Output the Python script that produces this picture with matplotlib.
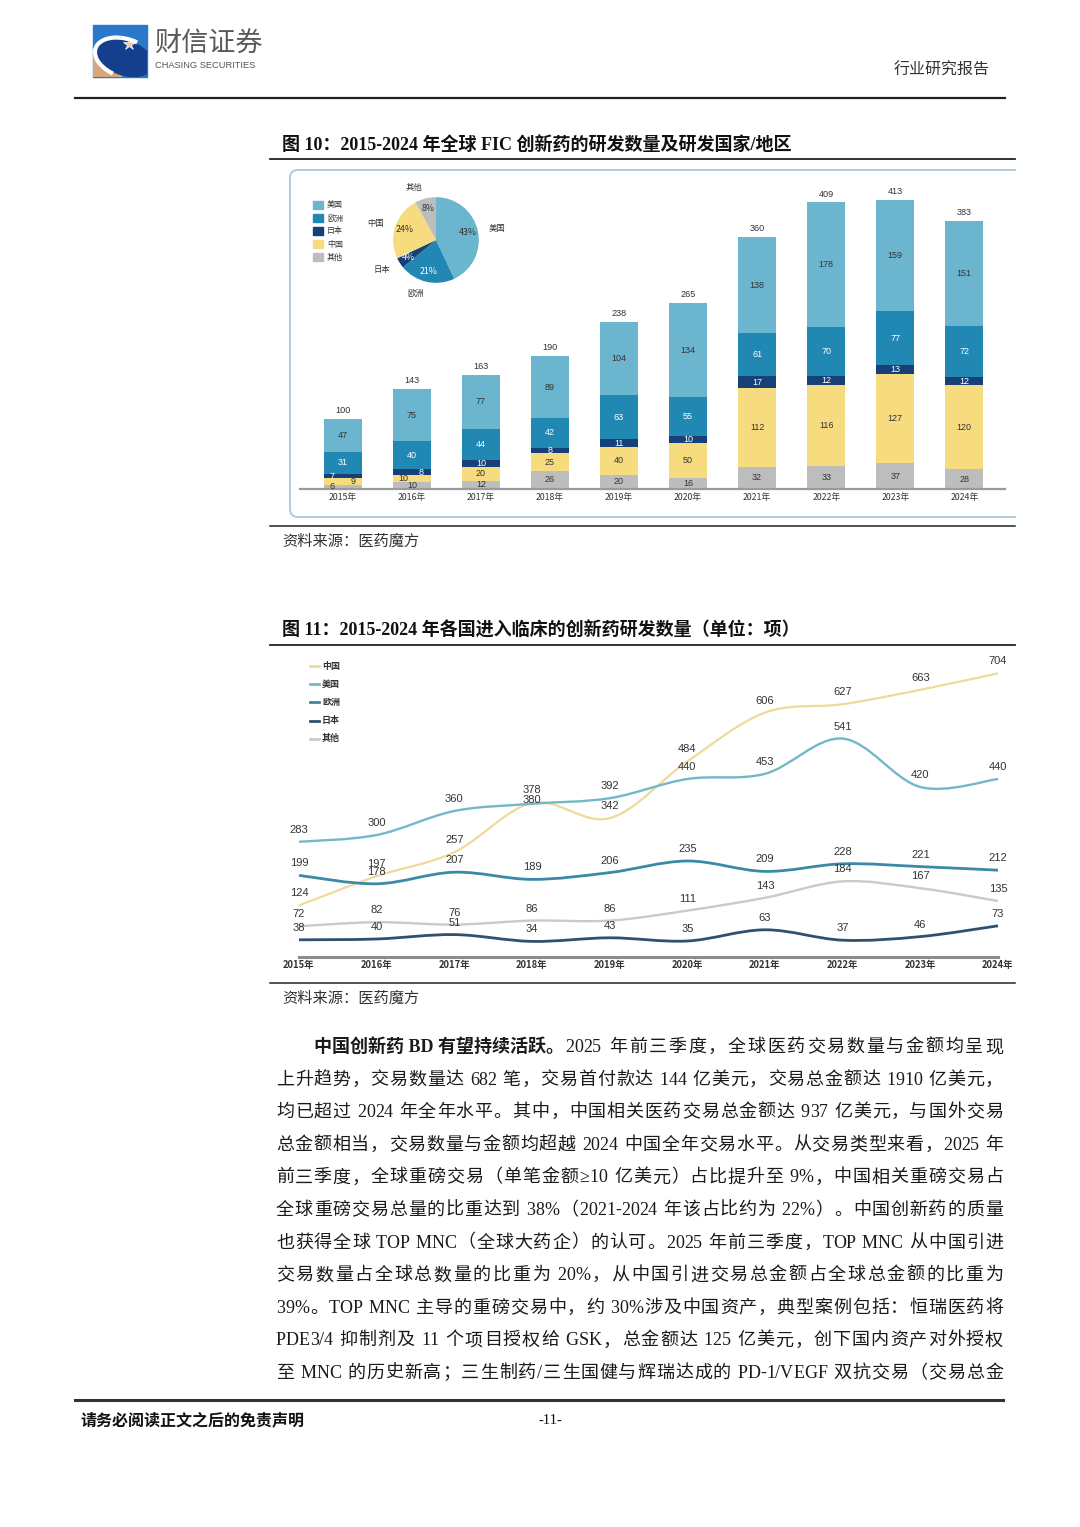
import matplotlib.pyplot as plt
import numpy as np
from matplotlib.patches import Rectangle, FancyBboxPatch, Polygon, Ellipse, Arc, PathPatch
from matplotlib.path import Path

plt.rcParams['font.family'] = ['Noto Sans CJK SC', 'DejaVu Sans']
SERIF = ['Liberation Serif', 'Noto Sans CJK SC']
NARROW = ['Liberation Sans Narrow', 'Liberation Sans', 'DejaVu Sans']

W, H = 1080, 1527

years = ['2015年', '2016年', '2017年', '2018年', '2019年',
         '2020年', '2021年', '2022年', '2023年', '2024年']

# figure 10: FIC drugs by country, stacked
us_bar = [47, 75, 77, 89, 104, 134, 138, 178, 159, 151]
eu_bar = [31, 40, 44, 42, 63, 55, 61, 70, 77, 72]
jp_bar = [7, 8, 10, 8, 11, 10, 17, 12, 13, 12]
cn_bar = [9, 10, 20, 25, 40, 50, 112, 116, 127, 120]
ot_bar = [6, 10, 12, 26, 20, 16, 32, 33, 37, 28]
totals = [100, 143, 163, 190, 238, 265, 360, 409, 413, 383]

pie_labels = ['美国', '欧洲', '日本', '中国', '其他']
pie_share = [43, 21, 4, 24, 8]

# figure 11: drugs entering clinic
cn_line = [124, 197, 257, 380, 342, 484, 606, 627, 663, 704]
us_line = [283, 300, 360, 378, 392, 440, 453, 541, 420, 440]
eu_line = [199, 178, 207, 189, 206, 235, 209, 228, 221, 212]
jp_line = [38, 40, 51, 34, 43, 35, 63, 37, 46, 73]
ot_line = [72, 82, 76, 86, 86, 111, 143, 184, 167, 135]

body_lead = '中国创新药 BD 有望持续活跃。'
body = [
    '2025 年前三季度，全球医药交易数量与金额均呈现',
    '上升趋势，交易数量达 682 笔，交易首付款达 144 亿美元，交易总金额达 1910 亿美元，',
    '均已超过 2024 年全年水平。其中，中国相关医药交易总金额达 937 亿美元，与国外交易',
    '总金额相当，交易数量与金额均超越 2024 中国全年交易水平。从交易类型来看，2025 年',
    '前三季度，全球重磅交易（单笔金额≥10 亿美元）占比提升至 9%，中国相关重磅交易占',
    '全球重磅交易总量的比重达到 38%（2021-2024 年该占比约为 22%）。中国创新药的质量',
    '也获得全球 TOP MNC（全球大药企）的认可。2025 年前三季度，TOP MNC 从中国引进',
    '交易数量占全球总数量的比重为 20%，从中国引进交易总金额占全球总金额的比重为',
    '39%。TOP MNC 主导的重磅交易中，约 30%涉及中国资产，典型案例包括：恒瑞医药将',
    'PDE3/4 抑制剂及 11 个项目授权给 GSK，总金额达 125 亿美元，创下国内资产对外授权',
    '至 MNC 的历史新高；三生制药/三生国健与辉瑞达成的 PD-1/VEGF 双抗交易（交易总金',
]

c_us, c_eu, c_jp, c_cn, c_ot = '#6cb5cf', '#2188b4', '#173f78', '#f6dc7f', '#bdbdbd'

fig = plt.figure(figsize=(10.8, 15.27), dpi=100)
page = fig.add_axes([0, 0, 1, 1])
page.set_xlim(0, W)
page.set_ylim(H, 0)
page.axis('off')
renderer = fig.canvas.get_renderer()


def px_axes(x0, y0, x1, y1):
    ax = fig.add_axes([x0 / W, 1 - y1 / H, (x1 - x0) / W, (y1 - y0) / H])
    ax.patch.set_alpha(0)
    return ax


# ---- header ----
clip = Rectangle((93, 25), 54, 52, transform=page.transData)
page.add_patch(Rectangle((93, 25), 54, 52, color='#2a78c8'))
tri = page.add_patch(Polygon([(93, 50), (93, 77), (122, 77)], color='#d8a678'))
ell = page.add_patch(Ellipse((125, 58), 58, 34, angle=18, color='#143f8c'))
arc = page.add_patch(Arc((125, 58), 62, 38, angle=18, theta1=110, theta2=290, color='white', lw=3))
for p in (tri, ell, arc):
    p.set_clip_path(clip)
page.plot(129, 44, marker='*', ms=9, color='#f3c9a0', mec='white', mew=0.5)
page.text(154, 44, '财信证券', fontsize=19.5, color='#5a5a5a', va='center', weight='medium')
page.text(155, 65, 'CHASING SECURITIES', fontsize=6.7, color='#555555', va='center',
          family=['Liberation Sans', 'DejaVu Sans'])
page.text(990, 70, '行业研究报告', fontsize=11.5, color='#333333', va='center', ha='right')
page.plot([75, 1005], [98, 98], color='#222222', lw=1.6)

# ---- figure 10 frame ----
page.text(282, 145, '图 10：2015-2024 年全球 FIC 创新药的研发数量及研发国家/地区',
          fontsize=13, weight='bold', family=SERIF, va='center', color='#111111')
page.plot([270, 1015], [159, 159], color='#222222', lw=1.3)
box = FancyBboxPatch((290, 170), 760, 347, boxstyle='round,pad=0,rounding_size=8',
                     fc='white', ec='#a8c8de', lw=1.3)
page.add_patch(box)
box.set_clip_path(Rectangle((0, 0), 1016, H, transform=page.transData))
page.plot([270, 1015], [526, 526], color='#222222', lw=1.1)
page.text(282, 541, '资料来源：医药魔方', fontsize=11, family=SERIF, va='center',
          color='#333333', style='italic')

# legend of figure 10
for i, (lab, col) in enumerate(zip(pie_labels, [c_us, c_eu, c_jp, c_cn, c_ot])):
    y = 205 + i * 13
    page.add_patch(Rectangle((313, y - 4), 10, 8, color=col))
    page.text(327, y, lab, fontsize=5.8, va='center', color='#333333')

# pie
pax = px_axes(376, 180, 496, 300)
wedges, texts, autotexts = pax.pie(pie_share, colors=[c_us, c_eu, c_jp, c_cn, c_ot],
                                   startangle=90, counterclock=False, labels=pie_labels,
                                   labeldistance=1.27, autopct='%d%%', pctdistance=0.76,
                                   textprops={'fontsize': 6, 'color': '#333333'})
for t, col in zip(autotexts, ['#333333', 'white', 'white', '#333333', '#333333']):
    t.set_color(col)
    t.set_fontsize(6.3)
pax.set_xlim(-1.4, 1.4)
pax.set_ylim(-1.4, 1.4)

# stacked bars
bax = px_axes(300, 180, 1005, 489)
bax.set_xlim(-0.62, 9.59)
bax.set_ylim(0, 441)
bax.axis('off')
x = np.arange(len(years))
series = [(ot_bar, c_ot, '#333333'), (cn_bar, c_cn, '#333333'), (jp_bar, c_jp, 'white'),
          (eu_bar, c_eu, 'white'), (us_bar, c_us, '#333333')]
shift = {(0, 0): -0.15, (0, 1): 0.15, (0, 2): -0.15, (1, 1): -0.13, (1, 2): 0.14}
bottom = np.zeros(len(years))
for k, (vals, col, tc) in enumerate(series):
    bax.bar(x, vals, 0.55, bottom=bottom, color=col)
    for i, v in enumerate(vals):
        bax.text(i + shift.get((i, k), 0), bottom[i] + v / 2, str(v), ha='center', va='center',
                 fontsize=6.5, color=tc, family=NARROW)
    bottom += np.array(vals)
for i, t in enumerate(totals):
    bax.text(i, t + 12, str(t), ha='center', va='center', fontsize=6.6, color='#333333',
             family=NARROW)
    bax.text(i, -12, years[i], ha='center', va='center', fontsize=6.3, color='#333333')
bax.plot([-0.62, 9.59], [0, 0], color='#9a9a9a', lw=1.6, clip_on=False)

# ---- figure 11 ----
page.text(282, 630, '图 11：2015-2024 年各国进入临床的创新药研发数量（单位：项）',
          fontsize=13, weight='bold', family=SERIF, va='center', color='#111111')
page.plot([270, 1015], [645, 645], color='#222222', lw=1.3)
page.plot([270, 1015], [983, 983], color='#222222', lw=1.1)
page.text(282, 998, '资料来源：医药魔方', fontsize=11, family=SERIF, va='center',
          color='#333333', style='italic')


def smooth(xs, ys):
    pts = np.column_stack([xs, ys]).astype(float)
    verts = [pts[0]]
    codes = [Path.MOVETO]
    n = len(pts)
    for i in range(n - 1):
        p0, p1 = pts[max(i - 1, 0)], pts[i]
        p2, p3 = pts[i + 1], pts[min(i + 2, n - 1)]
        verts += [p1 + (p2 - p0) / 6, p2 - (p3 - p1) / 6, p2]
        codes += [Path.CURVE4] * 3
    return Path(verts, codes)


lax = px_axes(299, 655, 998, 955)
lax.set_xlim(0, 9)
lax.set_ylim(0, 750)
lax.axis('off')
lines = [('中国', cn_line, '#efda9a', 1.6), ('美国', us_line, '#72b8c9', 1.7),
         ('欧洲', eu_line, '#3a8aa6', 2.0), ('日本', jp_line, '#30506f', 2.0),
         ('其他', ot_line, '#cacaca', 1.7)]
lift = {('中国', 3): 8, ('美国', 3): 34}
for name, vals, col, lw in lines:
    lax.add_patch(PathPatch(smooth(x, vals), fc='none', ec=col, lw=lw, clip_on=False))
    for i, v in enumerate(vals):
        lax.text(i, v + lift.get((name, i), 30), str(v), ha='center', va='center',
                 fontsize=8, color='#333333', family=NARROW)
for i, yl in enumerate(years):
    lax.text(i, -26, yl, ha='center', va='center', fontsize=6.8, color='#333333',
             weight='bold')
lax.plot([0, 9], [-5, -5], color='#8c8c8c', lw=2.2, clip_on=False)

for i, (name, vals, col, lw) in enumerate(lines):
    y = 666 + i * 18.2
    page.plot([310, 319], [y, y], color=col, lw=2)
    page.text(322, y, name, fontsize=6.5, va='center', color='#333333', weight='bold')


# ---- body text (justified to the right margin) ----
def right_edge(x0, y, s, **kw):
    t = page.text(x0, y, s, **kw)
    r = t.get_window_extent(renderer).x1
    t.remove()
    return r


def stretchable(a, b):
    # no extra space inside latin words / numbers
    return not (a.isascii() and b.isascii() and a != ' ' and b != ' ')


def justified(x0, y, s, right, **kw):
    natural = right_edge(x0, y, s, **kw)
    gaps = sum(stretchable(a, b) for a, b in zip(s, s[1:]))
    extra = (right - natural) / max(gaps, 1)
    k = 0
    for i, c in enumerate(s):
        if i > 0 and stretchable(s[i - 1], c):
            k += 1
        if c == ' ':
            continue
        r = right_edge(x0, y, s[:i + 1], **kw)
        page.text(r + k * extra, y, c, ha='right', **kw)


style = dict(fontsize=13, family=SERIF, va='baseline', color='#1a1a1a')
for i, s in enumerate(body):
    y = 1052 + i * 32.6
    x0 = 276
    if i == 0:
        lead = page.text(314, y, body_lead, weight='bold', **style)
        x0 = lead.get_window_extent(renderer).x1 + 1
    justified(x0, y, s, 1003, **style)

# ---- footer ----
page.plot([75, 1003], [1400, 1400], color='#333333', lw=2.2)
page.text(80, 1420, '请务必阅读正文之后的免责声明', fontsize=11.5, weight='bold', va='center',
          color='#111111')
page.text(550, 1420, '-11-', fontsize=10.5, family=SERIF, va='center', ha='center',
          color='#111111')

fig.savefig('out.png', dpi=100)
